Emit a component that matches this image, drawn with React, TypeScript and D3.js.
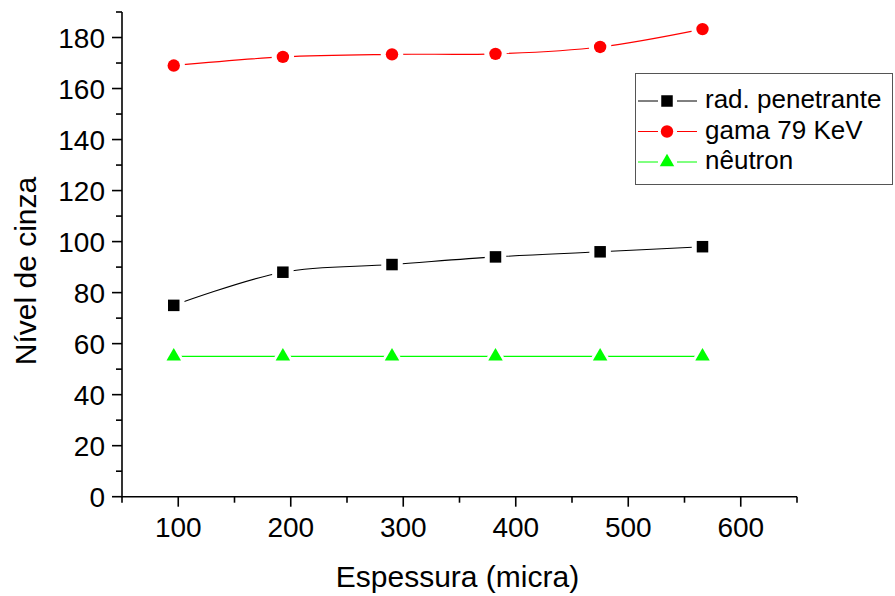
import React from "react";
import * as d3 from "d3";

const xValues = [96, 193, 290, 382, 475, 566];
const radPenetrante = [75, 88, 91, 94, 96, 98];
const gama79 = [169, 172.4, 173.4, 173.6, 176.3, 183.3];
const neutron = [55, 55, 55, 55, 55, 55];
const seriesNames = ["rad. penetrante", "gama 79 KeV", "nêutron"];
const seriesColors = ["#000000", "#ff0000", "#00ff00"];
const xTicks = [100, 200, 300, 400, 500, 600];
const yTicks = [0, 20, 40, 60, 80, 100, 120, 140, 160, 180];
const xTitle = "Espessura (micra)";
const yTitle = "Nível de cinza";

const W = 895;
const H = 596;
const FONT = "'Liberation Sans', Arial, Helvetica, sans-serif";

function Marker({ kind, x, y, color, gap }: { kind: number; x: number; y: number; color: string; gap: number }) {
  const fill = gap ? "#ffffff" : color;
  if (kind === 0) {
    const s = 11.5 + gap * 2;
    return <rect x={x - s / 2} y={y - s / 2} width={s} height={s} fill={fill} />;
  }
  if (kind === 1) {
    return <circle cx={x} cy={y} r={6.2 + gap} fill={fill} />;
  }
  const w = 14.5 + gap * 2;
  const h = 12.5 + gap * 2;
  const p = `M${x},${y - (h * 2) / 3}L${x + w / 2},${y + h / 3}L${x - w / 2},${y + h / 3}Z`;
  return <path d={p} fill={fill} />;
}

export default function App() {
  const x = d3.scaleLinear().domain([50, 650]).range([122, 797]);
  const y = d3.scaleLinear().domain([0, 190]).range([496.7, 12]);
  const series = [radPenetrante, gama79, neutron];
  const line = d3
    .line<number>()
    .x((_, i) => x(xValues[i]))
    .y((d) => y(d))
    .curve(d3.curveCatmullRom.alpha(0.5));

  const xMinor = d3.range(50, 651, 50).filter((v) => v % 100 !== 0);
  const yMinor = d3.range(10, 191, 20);

  return (
    <svg width={W} height={H} style={{ position: "absolute", left: 0, top: 0, background: "#fff" }} fontFamily={FONT}>
      <rect width={W} height={H} fill="#fff" />
      {series.map((s, k) => (
        <g key={k}>
          <path d={line(s) || ""} fill="none" stroke={seriesColors[k]} strokeWidth={1.1} />
          {s.map((v, i) => (
            <Marker key={"g" + i} kind={k} x={x(xValues[i])} y={y(v)} color={seriesColors[k]} gap={5} />
          ))}
          {s.map((v, i) => (
            <Marker key={"m" + i} kind={k} x={x(xValues[i])} y={y(v)} color={seriesColors[k]} gap={0} />
          ))}
        </g>
      ))}

      {/* axes */}
      <line x1={x(50)} x2={x(50)} y1={y(190)} y2={y(0) + 0.5} stroke="#000" strokeWidth={1.6} />
      <line x1={x(50)} x2={x(650)} y1={y(0)} y2={y(0)} stroke="#000" strokeWidth={1.6} />
      {yTicks.map((t) => (
        <g key={"yt" + t}>
          <line x1={x(50) - 10} x2={x(50)} y1={y(t)} y2={y(t)} stroke="#000" strokeWidth={1.6} />
          <text x={105} y={y(t) + 10} textAnchor="end" fontSize={28}>
            {t}
          </text>
        </g>
      ))}
      {yMinor.map((t) => (
        <line key={"ym" + t} x1={x(50) - 6} x2={x(50)} y1={y(t)} y2={y(t)} stroke="#000" strokeWidth={1.6} />
      ))}
      {xTicks.map((t) => (
        <g key={"xt" + t}>
          <line x1={x(t)} x2={x(t)} y1={y(0)} y2={y(0) + 10} stroke="#000" strokeWidth={1.6} />
          <text x={x(t)} y={537} textAnchor="middle" fontSize={28}>
            {t}
          </text>
        </g>
      ))}
      {xMinor.map((t) => (
        <line key={"xm" + t} x1={x(t)} x2={x(t)} y1={y(0)} y2={y(0) + 6} stroke="#000" strokeWidth={1.6} />
      ))}
      <text x={457.5} y={587} textAnchor="middle" fontSize={30}>
        {xTitle}
      </text>
      <text transform={`translate(36,271) rotate(-90)`} textAnchor="middle" fontSize={30}>
        {yTitle}
      </text>

      {/* legend */}
      <rect x={635.5} y={73.5} width={257} height={111} fill="#fff" stroke="#555" strokeWidth={1} />
      {seriesNames.map((n, k) => {
        const cy = 101 + k * 30.5;
        return (
          <g key={"lg" + k}>
            <line x1={638} x2={658} y1={cy} y2={cy} stroke={seriesColors[k]} strokeWidth={1} />
            <line x1={677} x2={697} y1={cy} y2={cy} stroke={seriesColors[k]} strokeWidth={1} />
            <Marker kind={k} x={667} y={cy} color={seriesColors[k]} gap={0} />
            <text x={705} y={cy + 7} fontSize={26}>
              {n}
            </text>
          </g>
        );
      })}
    </svg>
  );
}
